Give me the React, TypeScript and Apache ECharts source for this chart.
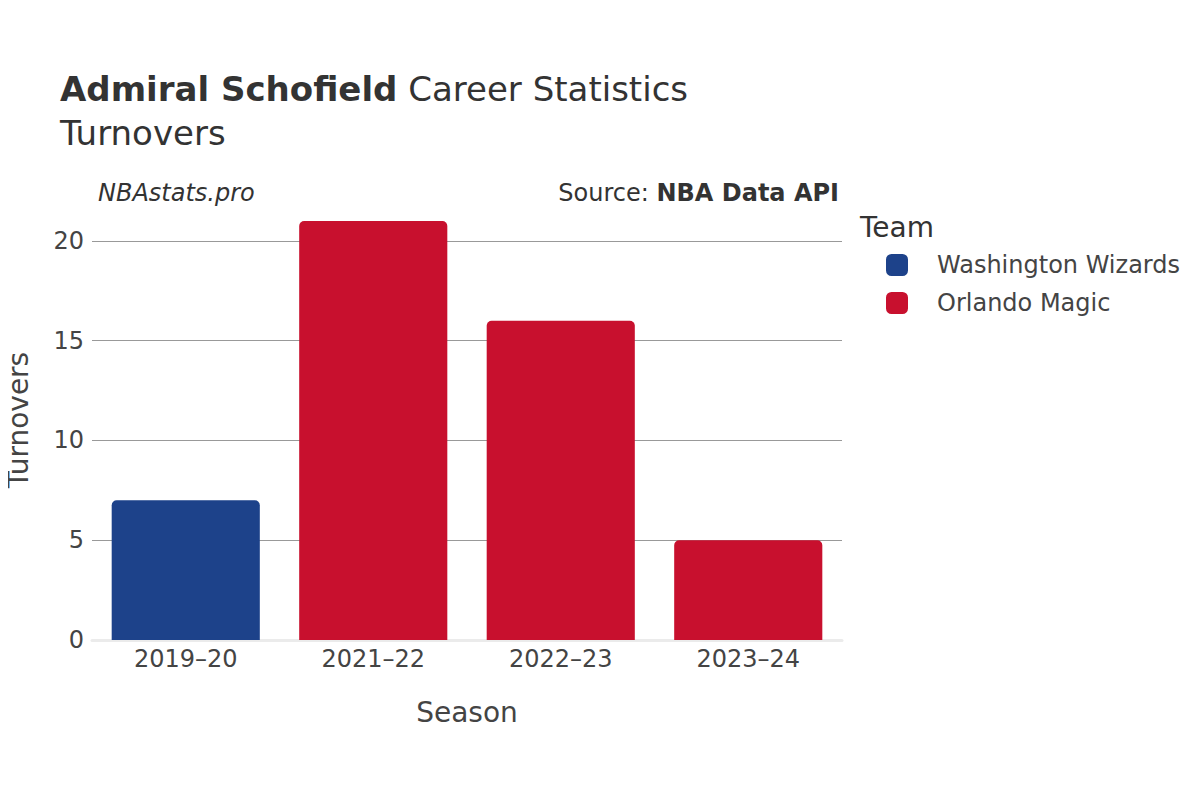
import React, { useEffect, useRef } from "react";
import * as echarts from "echarts";

const seasons = ["2019–20", "2021–22", "2022–23", "2023–24"];
const wizards = [7, null, null, null];
const magic = [null, 21, 16, 5];
const teams = ["Washington Wizards", "Orlando Magic"];
const colors = ["#1D428A", "#C8102E"];

export default function App() {
  const ref = useRef<HTMLDivElement>(null);
  useEffect(() => {
    const chart = echarts.init(ref.current!, null, { renderer: "svg" });
    const font = "DejaVu Sans";
    chart.setOption({
      animation: false,
      textStyle: { fontFamily: font },
      title: [
        {
          text: "{b|Admiral Schofield}{n| Career Statistics}",
          left: 55,
          top: 67,
          textStyle: {
            fontWeight: "normal",
            rich: {
              b: { fontFamily: font, fontSize: 34, fontWeight: "bold", color: "#333" },
              n: { fontFamily: font, fontSize: 34, fontWeight: "normal", color: "#333" },
            },
          },
        },
        {
          text: "Turnovers",
          left: 55,
          top: 111,
          textStyle: { fontFamily: font, fontSize: 34, fontWeight: "normal", color: "#333" },
        },
        {
          text: "NBAstats.pro",
          left: 93,
          top: 176,
          textStyle: { fontFamily: font, fontSize: 24, fontStyle: "italic", fontWeight: "normal", color: "#333" },
        },
        {
          text: "{n|Source: }{b|NBA Data API}",
          right: 356,
          top: 176,
          textStyle: {
            fontWeight: "normal",
            rich: {
              n: { fontFamily: font, fontSize: 24, fontWeight: "normal", color: "#333" },
              b: { fontFamily: font, fontSize: 24, fontWeight: "bold", color: "#333" },
            },
          },
        },
        {
          text: "Team",
          left: 855,
          top: 208,
          textStyle: { fontFamily: font, fontSize: 28, fontWeight: "normal", color: "#333" },
        },
      ],
      legend: {
        orient: "vertical",
        left: 881,
        top: 248,
        itemWidth: 22,
        itemHeight: 22,
        itemGap: 14,
        icon: "roundRect",
        data: teams,
        textStyle: { fontFamily: font, fontSize: 24, color: "#444", padding: [0, 0, 0, 24] },
      },
      grid: { left: 92, right: 358, top: 200, bottom: 160, outerBoundsMode: "none", containLabel: false },
      xAxis: {
        type: "category",
        data: seasons,
        name: "Season",
        nameLocation: "middle",
        nameGap: 58,
        nameTextStyle: { fontFamily: font, fontSize: 28, color: "#444" },
        axisLine: { lineStyle: { color: "#ebebeb", width: 3 } },
        axisTick: { show: false },
        axisLabel: { fontFamily: font, fontSize: 24, color: "#444", margin: 7 },
      },
      yAxis: {
        type: "value",
        min: 0,
        max: 22.05,
        interval: 5,
        name: "Turnovers",
        nameLocation: "middle",
        nameGap: 60,
        nameTextStyle: { fontFamily: font, fontSize: 28, color: "#444" },
        axisLabel: {
          fontFamily: font,
          fontSize: 24,
          color: "#444",
          margin: 8,
          showMaxLabel: false,
          formatter: (v: number) => (v % 5 === 0 ? String(v) : ""),
        },
        splitLine: { showMaxLine: false, lineStyle: { color: "#999", width: 1 } },
        axisLine: { show: false },
        axisTick: { show: false },
      },
      series: [
        {
          name: teams[0],
          type: "bar",
          data: wizards,
          barWidth: "79%",
          barGap: "-100%",
          itemStyle: { color: colors[0], borderRadius: [5, 5, 0, 0] },
        },
        {
          name: teams[1],
          type: "bar",
          data: magic,
          barWidth: "79%",
          barGap: "-100%",
          itemStyle: { color: colors[1], borderRadius: [5, 5, 0, 0] },
        },
      ],
    });
    return () => chart.dispose();
  }, []);
  return <div ref={ref} style={{ width: 1200, height: 800, margin: -8 }} />;
}
